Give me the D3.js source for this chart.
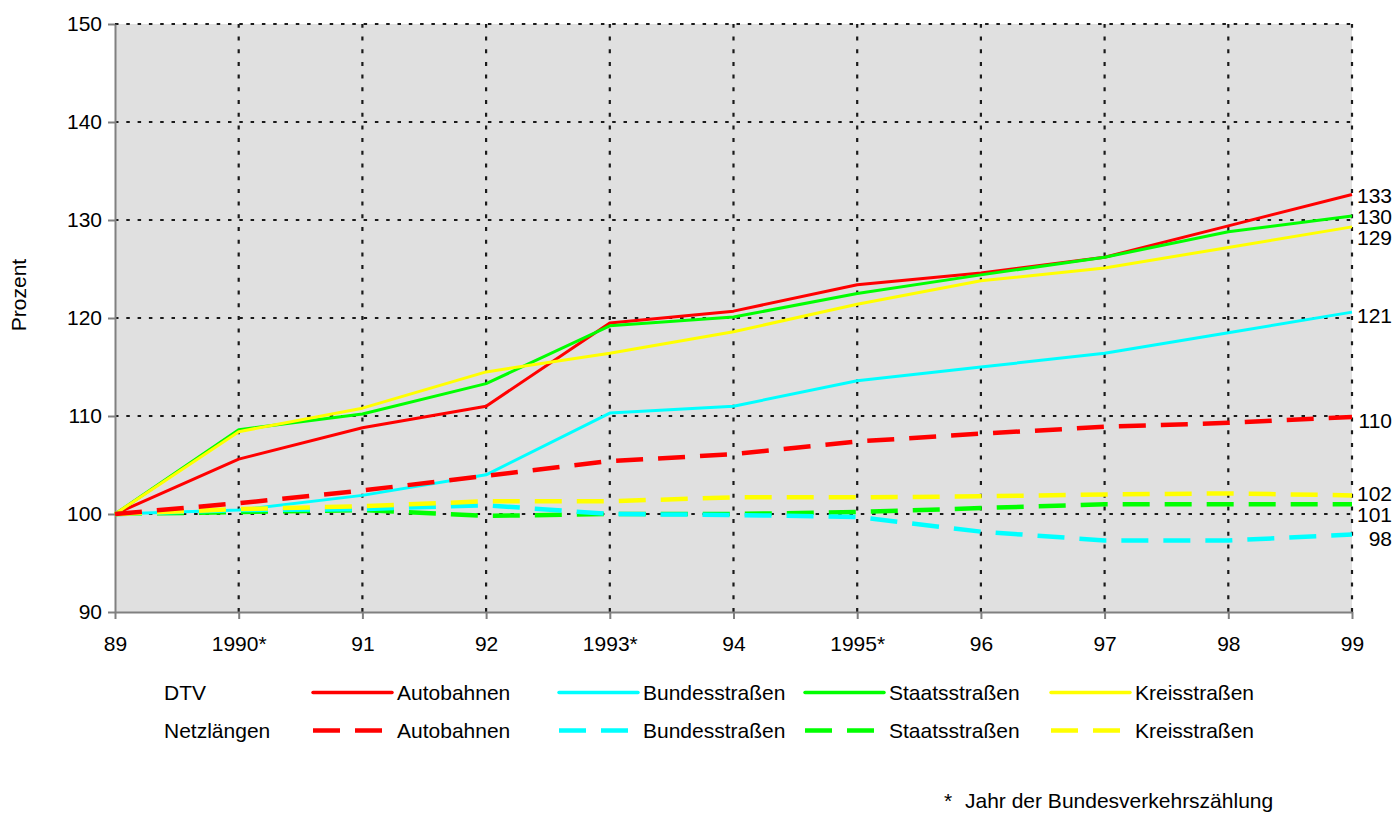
<!DOCTYPE html>
<html lang="de">
<head>
<meta charset="utf-8">
<title>DTV und Netzlängen</title>
<script src="https://cdn.jsdelivr.net/npm/d3@7"></script>
<style>
  html, body { margin: 0; padding: 0; background: #ffffff; }
  svg { display: block; font-family: "Liberation Sans", Arial, sans-serif; }
</style>
</head>
<body>
<svg id="chart" width="1394" height="814"></svg>
<script>
// Years on the x axis (* = Jahr der Bundesverkehrszählung)
const years = ["89", "1990*", "91", "92", "1993*", "94", "1995*", "96", "97", "98", "99"];
const yTicks = [90, 100, 110, 120, 130, 140, 150];

const roadTypes = ["Autobahnen", "Bundesstraßen", "Staatsstraßen", "Kreisstraßen"];
const roadColors = ["#ff0000", "#00ffff", "#00ff00", "#ffff00"];

// DTV (durchschnittlicher täglicher Verkehr), Index 1989 = 100
const dtvAutobahnen    = [100, 105.6, 108.8, 111.0, 119.5, 120.7, 123.4, 124.6, 126.2, 129.4, 132.6];
const dtvBundesstrassen = [100, 100.4, 101.9, 104.0, 110.3, 111.0, 113.6, 115.0, 116.4, 118.5, 120.6];
const dtvStaatsstrassen = [100, 108.6, 110.2, 113.3, 119.2, 120.1, 122.5, 124.4, 126.2, 128.8, 130.4];
const dtvKreisstrassen  = [100, 108.4, 110.8, 114.5, 116.4, 118.6, 121.4, 123.8, 125.1, 127.2, 129.3];

// Netzlängen, Index 1989 = 100
const netzAutobahnen    = [100, 101.1, 102.4, 103.9, 105.4, 106.1, 107.4, 108.2, 108.9, 109.3, 109.9];
const netzBundesstrassen = [100, 100.4, 100.5, 100.9, 100.0, 99.9, 99.7, 98.2, 97.3, 97.3, 97.9];
const netzStaatsstrassen = [100, 100.2, 100.4, 99.8, 100.0, 100.0, 100.2, 100.6, 101.0, 101.0, 101.0];
const netzKreisstrassen  = [100, 100.5, 100.8, 101.3, 101.3, 101.7, 101.7, 101.8, 102.0, 102.1, 101.9];

const dtvSeries = [dtvAutobahnen, dtvBundesstrassen, dtvStaatsstrassen, dtvKreisstrassen];
const netzSeries = [netzAutobahnen, netzBundesstrassen, netzStaatsstrassen, netzKreisstrassen];

// ---- layout ----
const plot = { left: 115, right: 1352, top: 24, bottom: 612 };
const FONT = 21;
const DASH = "27,15";

const svg = d3.select("#chart");

const x = d3.scalePoint().domain(years).range([plot.left, plot.right]);
const y = d3.scaleLinear().domain([90, 150]).range([plot.bottom, plot.top]);

// plot background
svg.append("rect")
  .attr("x", plot.left).attr("y", plot.top)
  .attr("width", plot.right - plot.left).attr("height", plot.bottom - plot.top)
  .attr("fill", "#e0e0e0");

// dotted grid
const grid = svg.append("g").attr("class", "grid");
grid.selectAll("line.h")
  .data(yTicks.filter(v => v > 90))
  .join("line")
  .attr("class", "h")
  .attr("x1", plot.left).attr("x2", plot.right)
  .attr("y1", d => y(d)).attr("y2", d => y(d))
  .attr("stroke", "#1a1a1a").attr("stroke-width", 2.2)
  .attr("stroke-dasharray", "3.5,7.8");
grid.selectAll("line.v")
  .data(years.slice(1))
  .join("line")
  .attr("class", "v")
  .attr("x1", d => x(d)).attr("x2", d => x(d))
  .attr("y1", plot.bottom).attr("y2", plot.top)
  .attr("stroke", "#1a1a1a").attr("stroke-width", 2.2)
  .attr("stroke-dasharray", "4,8.7");

// axes
const yAxis = svg.append("g")
  .attr("transform", `translate(${plot.left},0)`)
  .call(d3.axisLeft(y).tickValues(yTicks).tickSize(7).tickSizeOuter(0).tickPadding(6));
const xAxis = svg.append("g")
  .attr("transform", `translate(0,${plot.bottom})`)
  .call(d3.axisBottom(x).tickSize(7).tickSizeOuter(0).tickPadding(17));

[yAxis, xAxis].forEach(a => {
  a.select(".domain").attr("stroke", "#808080").attr("stroke-width", 2);
  a.selectAll(".tick line").attr("stroke", "#808080").attr("stroke-width", 2);
  a.selectAll(".tick text")
    .attr("fill", "#000").attr("font-size", FONT)
    .attr("font-family", "'Liberation Sans', Arial, sans-serif");
});

// y axis title
svg.append("text")
  .attr("transform", "translate(19,295) rotate(-90)")
  .attr("text-anchor", "middle").attr("dy", "0.35em")
  .attr("font-size", FONT).attr("fill", "#000")
  .text("Prozent");

// series lines
const line = d3.line().x((d, i) => x(years[i])).y(d => y(d));
const linesG = svg.append("g");

const solidOrder = [1, 0, 2, 3];
solidOrder.forEach(i => {
  linesG.append("path")
    .datum(dtvSeries[i])
    .attr("d", line)
    .attr("fill", "none")
    .attr("stroke", roadColors[i])
    .attr("stroke-width", 3)
    .attr("stroke-linejoin", "round");
});
const dashedOrder = [2, 1, 3, 0];
dashedOrder.forEach(i => {
  linesG.append("path")
    .datum(netzSeries[i])
    .attr("d", line)
    .attr("fill", "none")
    .attr("stroke", roadColors[i])
    .attr("stroke-width", 4.5)
    .attr("stroke-dasharray", DASH);
});

// end-value labels, spread apart where they would overlap
const endVals = dtvSeries.concat(netzSeries).map(s => s[s.length - 1]);
const labels = endVals
  .map(v => ({ text: d3.format(".0f")(v), y0: y(v) + 4 }))
  .sort((a, b) => a.y0 - b.y0);
const GAP = 21;
let groups = labels.map(l => ({ items: [l] }));
const place = g => {
  const c = d3.mean(g.items, d => d.y0);
  g.items.forEach((d, k) => { d.y = c - (g.items.length - 1) / 2 * GAP + k * GAP; });
};
groups.forEach(place);
let merged = true;
while (merged) {
  merged = false;
  for (let k = 1; k < groups.length; k++) {
    const prev = groups[k - 1], cur = groups[k];
    if (cur.items[0].y - prev.items[prev.items.length - 1].y < GAP) {
      prev.items = prev.items.concat(cur.items);
      place(prev);
      groups.splice(k, 1);
      merged = true;
      break;
    }
  }
}
svg.append("g").selectAll("text")
  .data(labels)
  .join("text")
  .attr("x", 1392).attr("y", d => d.y)
  .attr("dy", "0.35em").attr("text-anchor", "end")
  .attr("font-size", FONT).attr("fill", "#000")
  .text(d => d.text);

// legend
const legend = svg.append("g");
const rows = [
  { title: "DTV", y: 692.5, dashed: false },
  { title: "Netzlängen", y: 730.5, dashed: true }
];
rows.forEach(r => {
  legend.append("text")
    .attr("x", 164).attr("y", r.y).attr("dy", "0.35em")
    .attr("font-size", FONT).attr("fill", "#000")
    .text(r.title);
  roadTypes.forEach((name, i) => {
    const x0 = 313 + i * 246;
    legend.append("line")
      .attr("x1", x0).attr("x2", x0 + 79)
      .attr("y1", r.y).attr("y2", r.y)
      .attr("stroke", roadColors[i])
      .attr("stroke-width", r.dashed ? 4.5 : 3.5)
      .attr("stroke-linecap", r.dashed ? "butt" : "round")
      .attr("stroke-dasharray", r.dashed ? DASH : null);
    legend.append("text")
      .attr("x", x0 + 84).attr("y", r.y).attr("dy", "0.35em")
      .attr("font-size", FONT).attr("fill", "#000")
      .text(name);
  });
});

// footnote
svg.append("text")
  .attr("x", 944).attr("y", 808)
  .attr("font-size", FONT).attr("fill", "#000")
  .text("*");
svg.append("text")
  .attr("x", 965).attr("y", 808)
  .attr("font-size", FONT).attr("fill", "#000")
  .text("Jahr der Bundesverkehrszählung");
</script>
</body>
</html>
